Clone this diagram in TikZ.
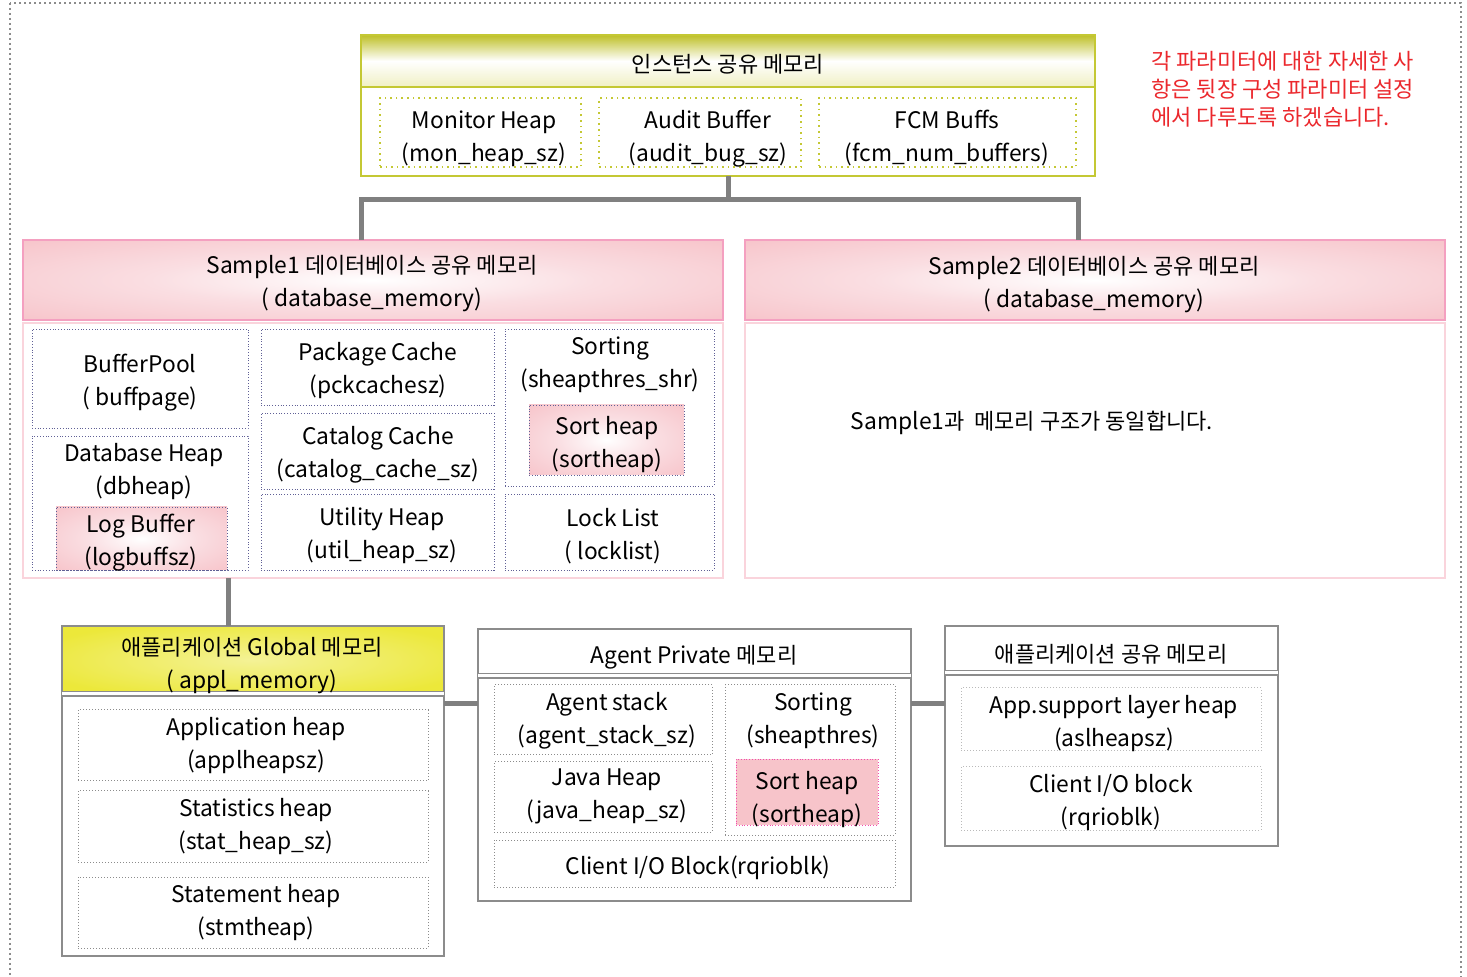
\documentclass[tikz,border=0pt]{standalone}
\usepackage{fontspec}
\setmainfont{Noto Sans CJK KR}
\usetikzlibrary{fit}
\definecolor{instline}{RGB}{196,200,52}
\definecolor{insttop}{RGB}{190,192,40}
\definecolor{instbot}{RGB}{240,240,196}
\definecolor{pinkline}{RGB}{244,160,192}
\definecolor{pinkpale}{RGB}{250,212,220}
\definecolor{pinkfill}{RGB}{247,196,202}
\definecolor{pinkmid}{RGB}{250,222,226}
\definecolor{navydot}{RGB}{96,96,150}
\definecolor{boxgray}{RGB}{140,140,140}
\definecolor{wiregray}{RGB}{128,128,128}
\definecolor{yelfill}{RGB}{236,232,58}
\definecolor{yelmid}{RGB}{244,242,150}
\definecolor{notered}{RGB}{235,40,45}
\pgfdeclareradialshading{pinkglow}{\pgfpoint{0bp}{0bp}}{color(0bp)=(white); color(16bp)=(pinkmid); color(36bp)=(pinkfill); color(50bp)=(pinkfill)}
\pgfdeclareradialshading{yelglow}{\pgfpoint{0bp}{0bp}}{color(0bp)=(yelmid); color(30bp)=(yelfill); color(50bp)=(yelfill)}
\newcommand{\ko}[1]{{\fontsize{11pt}{16.5pt}\selectfont #1}}
\tikzset{
  txt/.style={align=center, font=\fontsize{11.4pt}{16.5pt}\selectfont, inner sep=0pt, yshift=-1.2pt},
  area/.style={inner sep=0pt, outer sep=0pt},
  insthdr/.style={area, top color=insttop, bottom color=instbot, middle color=white, draw=instline, line width=1pt},
  instbox/.style={area, draw=instline, line width=1pt},
  instdot/.style={area, draw=instline, line width=0.8pt, dotted},
  dbhdr/.style={area, shading=pinkglow, draw=pinkline, line width=1.2pt},
  dbbody/.style={area, draw=pinkpale, line width=0.8pt},
  dbdot/.style={area, draw=navydot, line width=0.4pt, densely dotted},
  pinkbox/.style={area, shading=pinkglow, draw=navydot, line width=0.4pt, densely dotted},
  grbox/.style={area, draw=boxgray, line width=1pt},
  grdot/.style={area, draw=boxgray, line width=0.5pt, densely dotted},
  sep/.style={draw=boxgray, double, double distance=1.5pt, line width=0.6pt},
  wire/.style={draw=wiregray, line width=2.5pt},
  note/.style={align=left, text=notered, font=\fontsize{11pt}{14pt}\selectfont, inner sep=0pt}
}
\begin{document}
\begin{tikzpicture}[x=0.5pt,y=-0.5pt]
  \useasboundingbox (0,0) rectangle (1467,977);
  \draw[boxgray, line width=1pt, dash pattern=on 1.2pt off 1.3pt] (10,3) rectangle (1461,1010);

  % instance shared memory
  \node[insthdr, fit={(361,35) (1095,87)}] (insth) {};
  \node[instbox, fit={(361,35) (1095,176)}] (inst) {};
  \node[txt] (instt) at (728,62) {\ko{인스턴스 공유 메모리}};
  \node[instdot, fit={(380,98) (581,167)}] (mon) {};
  \node[instdot, fit={(599,98) (801,167)}] (aud) {};
  \node[instdot, fit={(819,98) (1076,167)}] (fcm) {};
  \node[txt] (mont) at (484,136.5) {Monitor Heap\\(mon\_heap\_sz)};
  \node[txt] (audt) at (708,136.5) {Audit Buffer\\(audit\_bug\_sz)};
  \node[txt] (fcmt) at (947,135.5) {FCM Buffs\\(fcm\_num\_buffers)};

  % note
  \node[note, anchor=west] (note) at (1151,89) {각 파라미터에 대한 자세한 사\\항은 뒷장 구성 파라미터 설정\\에서 다루도록 하겠습니다.};

  % Sample1 database memory
  \node[dbhdr, fit={(23,240) (723,320)}] (s1h) {};
  \node[dbbody, fit={(23,323) (723,578)}] (s1) {};
  \node[txt] (s1t) at (372,281.5) {Sample1 \ko{데이터베이스 공유 메모리}\\( database\_memory)};
  \node[dbdot, fit={(32,329) (248,428)}] (bp) {};
  \node[dbdot, fit={(32,436) (248,570)}] (dbh) {};
  \node[pinkbox, fit={(56,507) (227,570)}] (logb) {};
  \node[dbdot, fit={(261,329) (494,405)}] (pkg) {};
  \node[dbdot, fit={(261,413) (494,489)}] (cat) {};
  \node[dbdot, fit={(261,494) (494,570)}] (util) {};
  \node[dbdot, fit={(505,329) (714,486)}] (srt) {};
  \node[pinkbox, fit={(529,405) (684,475)}] (sh) {};
  \node[dbdot, fit={(505,494) (714,570)}] (lock) {};
  \node[txt] (bpt) at (140,380.5) {BufferPool\\( buffpage)};
  \node[txt] (dbht) at (144,469.5) {Database Heap\\(dbheap)};
  \node[txt] (logbt) at (141,540.5) {Log Buffer\\(logbuffsz)};
  \node[txt] (pkgt) at (378,368.5) {Package Cache\\(pckcachesz)};
  \node[txt] (catt) at (378,452.5) {Catalog Cache\\(catalog\_cache\_sz)};
  \node[txt] (utilt) at (382,533.5) {Utility Heap\\(util\_heap\_sz)};
  \node[txt] (srtt) at (610,362.5) {Sorting\\(sheapthres\_shr)};
  \node[txt] (sht) at (607,442.5) {Sort heap\\(sortheap)};
  \node[txt] (lockt) at (613,533.5) {Lock List\\( locklist)};

  % Sample2 database memory
  \node[dbhdr, fit={(745,240) (1445,320)}] (s2h) {};
  \node[dbbody, fit={(745,323) (1445,578)}] (s2) {};
  \node[txt] (s2t) at (1094,282.5) {Sample2 \ko{데이터베이스 공유 메모리}\\( database\_memory)};
  \node[txt] (s2b) at (1032,421) {Sample1\ko{과\ \ 메모리 구조가 동일합니다.}};

  % application global memory
  \node[area, shading=yelglow, fit={(62,626) (444,694)}] (agh) {};
  \node[grbox, fit={(62,626) (444,956)}] (ag) {};
  \draw[sep] (agh.south west) -- (agh.south east);
  \node[txt] (agt) at (252,663) {\ko{애플리케이션} Global \ko{메모리}\\( appl\_memory)};
  \node[grdot, fit={(78,710) (428,781)}] (aph) {};
  \node[grdot, fit={(78,791) (428,862)}] (sth) {};
  \node[grdot, fit={(78,877) (428,948)}] (stm) {};
  \node[txt] (apht) at (256,743.5) {Application heap\\(applheapsz)};
  \node[txt] (stht) at (256,824.5) {Statistics heap\\(stat\_heap\_sz)};
  \node[txt] (stmt) at (256,910.5) {Statement heap\\(stmtheap)};

  % agent private memory
  \node[area, fit={(478,629) (911,676)}] (aph2) {};
  \node[grbox, fit={(478,629) (911,901)}] (ap) {};
  \draw[sep] (aph2.south west) -- (aph2.south east);
  \node[txt] (apt) at (694,655) {Agent Private \ko{메모리}};
  \node[grdot, fit={(494,685) (712,755)}] (ast) {};
  \node[grdot, fit={(494,762) (712,832)}] (jvh) {};
  \node[grdot, fit={(725,685) (895,835)}] (asrt) {};
  \node[area, fill=pinkfill, draw=magenta!70, line width=0.4pt, densely dotted, fit={(736,759) (878,825)}] (ash) {};
  \node[grdot, fit={(494,840) (895,887)}] (cio) {};
  \node[txt] (astt) at (607,718.5) {Agent stack\\(agent\_stack\_sz)};
  \node[txt] (jvht) at (607,794.5) {Java Heap\\(java\_heap\_sz)};
  \node[txt] (asrtt) at (813,718.5) {Sorting\\(sheapthres)};
  \node[txt] (asht) at (807,797) {Sort heap\\(sortheap)};
  \node[txt] (ciot) at (698,865) {Client I/O Block(rqrioblk)};

  % application shared memory
  \node[area, fit={(945,626) (1278,673)}] (ash2) {};
  \node[grbox, fit={(945,626) (1278,846)}] (as) {};
  \draw[sep] (ash2.south west) -- (ash2.south east);
  \node[txt] (ast2) at (1111,652) {\ko{애플리케이션 공유 메모리}};
  \node[grdot, draw=boxgray!60, fit={(961,688) (1261,751)}] (asl) {};
  \node[grdot, draw=boxgray!60, fit={(961,767) (1261,830)}] (rq) {};
  \node[txt] (aslt) at (1114,721.5) {App.support layer heap\\(aslheapsz)};
  \node[txt] (rqt) at (1111,800.5) {Client I/O block\\(rqrioblk)};

  % connectors
  \coordinate (jl) at (361,200);
  \coordinate (jr) at (1078,200);
  \coordinate (tap) at (228,578);
  \coordinate (mid) at (460,704);
  \draw[wire] (inst.south) -- (inst.south |- jl);
  \draw[wire] (s1h.north -| jl) -- (jl) -- (jr) -- (s2h.north -| jr);
  \draw[wire] (tap) -- (tap |- ag.north);
  \draw[wire] (ag.east |- mid) -- (ap.west |- mid);
  \draw[wire] (ap.east |- mid) -- (as.west |- mid);
\end{tikzpicture}
\end{document}
